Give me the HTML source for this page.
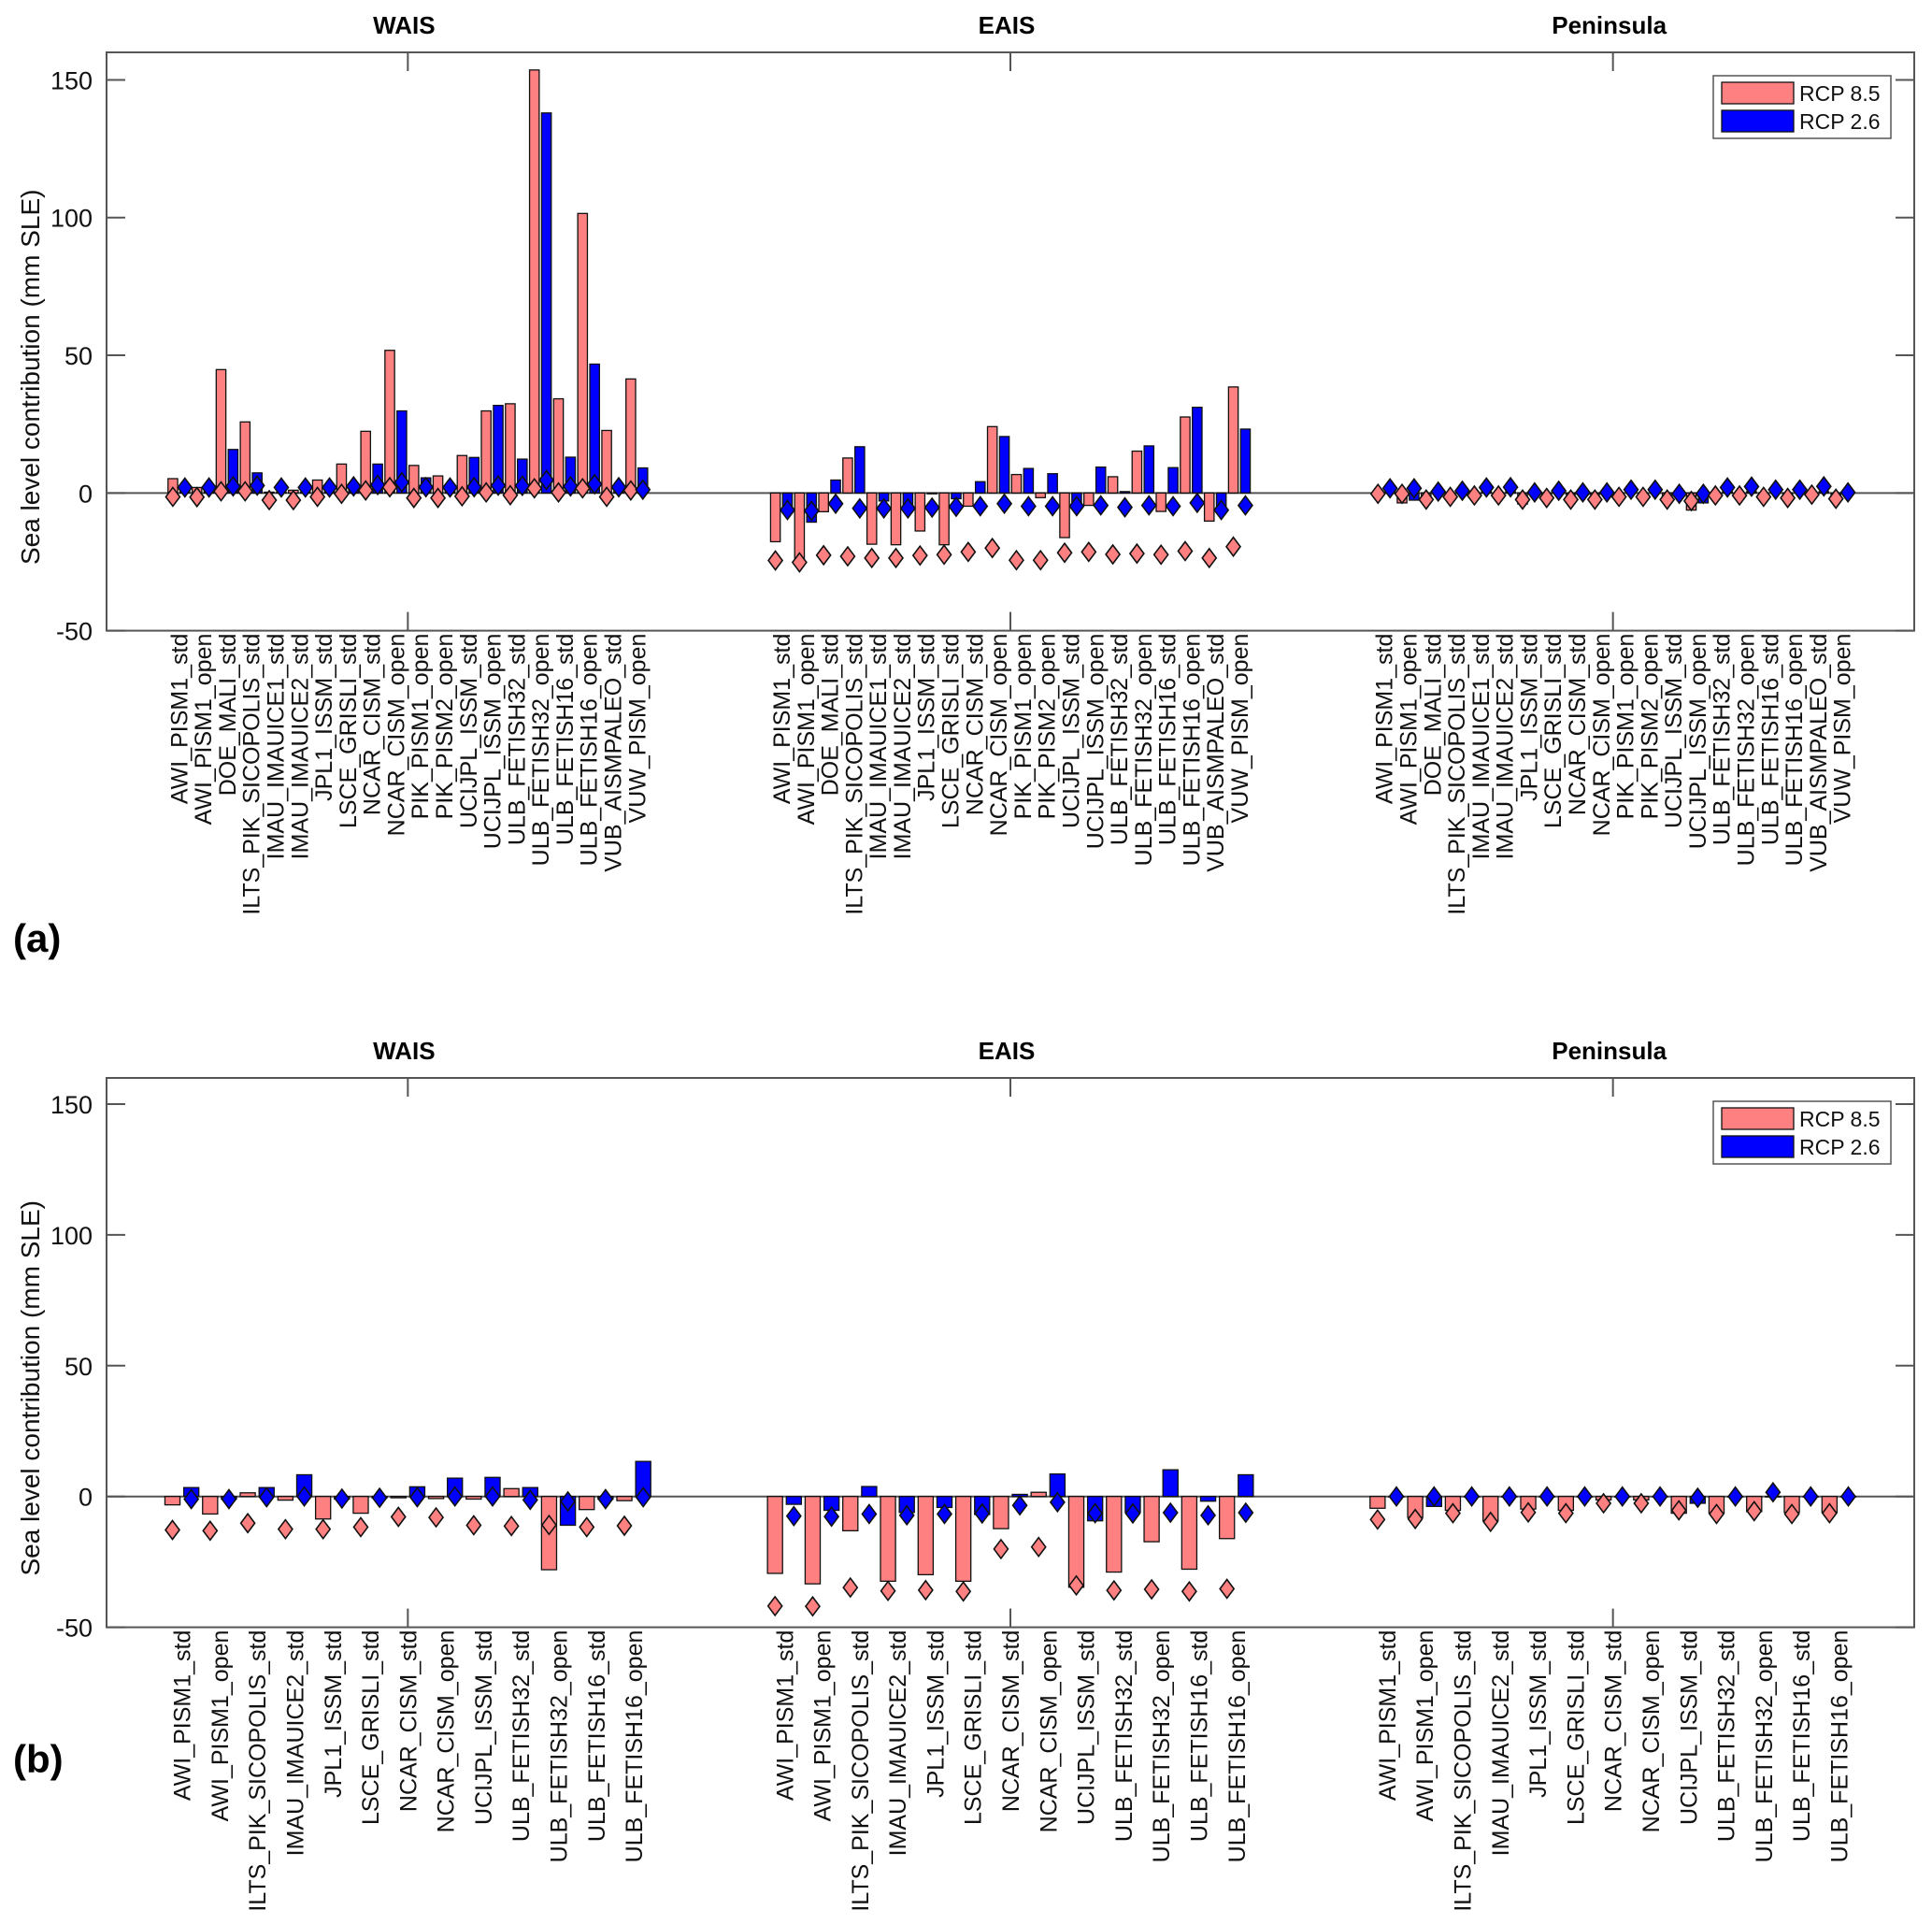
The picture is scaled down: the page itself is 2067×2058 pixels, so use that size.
<!DOCTYPE html>
<html><head><meta charset="utf-8"><style>
html,body{margin:0;padding:0;background:#fff;}
svg{display:block;font-family:"Liberation Sans",Arial,sans-serif;}
</style></head><body>
<svg id="chart" width="2067" height="2058" viewBox="0 0 2067 2058" xmlns="http://www.w3.org/2000/svg"></svg>
<script>
const regions = ["WAIS","EAIS","Peninsula"];
const yTicks = [-50,0,50,100,150];
const modelsA = ["AWI_PISM1_std","AWI_PISM1_open","DOE_MALI_std","ILTS_PIK_SICOPOLIS_std","IMAU_IMAUICE1_std","IMAU_IMAUICE2_std","JPL1_ISSM_std","LSCE_GRISLI_std","NCAR_CISM_std","NCAR_CISM_open","PIK_PISM1_open","PIK_PISM2_open","UCIJPL_ISSM_std","UCIJPL_ISSM_open","ULB_FETISH32_std","ULB_FETISH32_open","ULB_FETISH16_std","ULB_FETISH16_open","VUB_AISMPALEO_std","VUW_PISM_open"];
const modelsB = ["AWI_PISM1_std","AWI_PISM1_open","ILTS_PIK_SICOPOLIS_std","IMAU_IMAUICE2_std","JPL1_ISSM_std","LSCE_GRISLI_std","NCAR_CISM_std","NCAR_CISM_open","UCIJPL_ISSM_std","ULB_FETISH32_std","ULB_FETISH32_open","ULB_FETISH16_std","ULB_FETISH16_open"];
// Panel (a) bars: RCP8.5 / RCP2.6 ; diamonds: RCP8.5 / RCP2.6
const aWaisBar85 = [5.2,2,44.8,25.8,0.3,1,4.7,10.5,22.4,51.8,10,6.2,13.6,29.8,32.4,153.6,34.2,101.5,22.7,41.4];
const aWaisBar26 = [2,1,15.8,7.3,0.3,0.3,2,2,10.5,29.8,5.5,2,12.9,31.8,12.3,138,13,46.8,2,9.1];
const aWaisDia85 = [-1.4,-1.5,0.6,0.6,-2.6,-2.6,-1.4,-0.3,0.9,2.1,-1.8,-1.8,-1.2,0.2,-0.8,1.7,0.2,1.7,-1.4,0.9];
const aWaisDia26 = [2,2,2.4,2.7,2,2,2,2.4,2.9,3.9,2.1,2,2.1,2.7,2.6,4.7,2.4,3.2,2.1,1.2];
const aEaisBar85 = [-17.7,-24.8,-6.8,12.7,-18.6,-18.8,-13.8,-18.8,-4.8,24.1,6.7,-1.7,-16.2,-4.5,5.9,15.2,-6.7,27.6,-10.2,38.5];
const aEaisBar26 = [-5.2,-10.6,4.7,16.8,-2.9,-4.4,-0.3,-2.1,4.1,20.5,8.9,7,-3.6,9.4,0.5,17.1,9.2,31.1,-5.2,23.2];
const aEaisDia85 = [-24.5,-25.2,-22.6,-23,-23.6,-23.6,-22.7,-22.4,-21.4,-20,-24.4,-24.4,-21.7,-21.4,-22.3,-22,-22.4,-21.1,-23.6,-19.5];
const aEaisDia26 = [-6.2,-6.5,-3.9,-5.6,-5.6,-5.6,-5.3,-5,-4.8,-3.9,-4.8,-4.8,-4.8,-4.5,-5.2,-4.5,-4.8,-3.6,-6.2,-4.5];
const aPenBar85 = [-0.5,-3.6,-1,-1,-1,-1,-4,-1,-0.5,-0.5,-1,-0.5,-1.5,-6.2,-1.5,-1,-1,-1,-0.5,-1];
const aPenBar26 = [0.5,-2.6,0.5,0.5,0.5,0.5,0.5,0.5,0.5,0.5,0.5,0.5,-1,-3.6,0.5,0.5,0.5,0.5,0.5,0.5];
const aPenDia85 = [-0.3,-0.3,-2.4,-1.4,-0.9,-0.9,-2.4,-1.8,-2.4,-2.4,-1.4,-1.4,-2.4,-2.9,-0.9,-0.9,-1.4,-1.8,-0.6,-2.1];
const aPenDia26 = [1.7,1.7,0.5,0.8,2,2.1,0.2,0.8,0.2,0.2,1.2,1.2,-0.3,-0.3,2,2.3,1.2,1.2,2.4,0.2];
// Panel (b)
const bWaisBar85 = [-3.2,-6.7,1.4,-1.4,-8.6,-6.4,-0.5,-0.8,-1,3,-28,-5,-1.6];
const bWaisBar26 = [3.4,-1,3.4,8.3,-1,-0.5,3.7,7,7.3,3.4,-11,-1,13.4];
const bWaisDia85 = [-12.8,-13.1,-10.2,-12.5,-12.5,-11.7,-7.8,-8,-11,-11.3,-10.9,-11.7,-11.2];
const bWaisDia26 = [-1,-1,-0.3,0,-0.8,-0.5,-0.3,0,0,-1.3,-1.9,-1,-0.3];
const bEaisBar85 = [-29.4,-33.4,-13.1,-32.4,-29.9,-32.4,-12.3,1.6,-34.7,-28.9,-17.3,-27.8,-16.1];
const bEaisBar26 = [-3,-5.3,3.8,-6.1,-4.2,-6.9,0.8,8.6,-9.3,-6.1,10.2,-1.8,8.3];
const bEaisDia85 = [-41.9,-42,-34.8,-36.1,-35.8,-36.3,-20.1,-19.3,-34,-35.9,-35.5,-36.3,-35.3];
const bEaisDia26 = [-7.5,-7.7,-6.7,-7.2,-6.7,-6.5,-3.4,-2.2,-6.4,-6.5,-6.2,-7.2,-6.2];
const bPenBar85 = [-4.5,-8,-5.3,-9.3,-4.8,-5.3,-1.3,-1.3,-6.4,-6.4,-5.8,-6.1,-6.1];
const bPenBar26 = [0,-3.8,0,0,0,0,0,0,-2.6,0,0,0,0];
const bPenDia85 = [-8.8,-8.6,-6.4,-9.7,-6.1,-6.4,-2.6,-2.6,-5.3,-6.7,-5.6,-6.7,-6.4];
const bPenDia26 = [0,0,0,0,0,0,0,0,-0.5,0,1.6,0,0];

const NS="http://www.w3.org/2000/svg";
const svg=document.getElementById('chart');
function el(tag,attrs,parent){const e=document.createElementNS(NS,tag);for(const k in attrs)e.setAttribute(k,attrs[k]);(parent||svg).appendChild(e);return e;}
const X0=114,X1=2048,W=(X1-X0)/3;
const panels=[
 {id:'a',top:56,bottom:674.6,models:modelsA,div:25,letterY:1018,
  bar85:[aWaisBar85,aEaisBar85,aPenBar85],bar26:[aWaisBar26,aEaisBar26,aPenBar26],
  dia85:[aWaisDia85,aEaisDia85,aPenDia85],dia26:[aWaisDia26,aEaisDia26,aPenDia26]},
 {id:'b',top:1153,bottom:1740.6,models:modelsB,div:16,letterY:1896,
  bar85:[bWaisBar85,bEaisBar85,bPenBar85],bar26:[bWaisBar26,bEaisBar26,bPenBar26],
  dia85:[bWaisDia85,bEaisDia85,bPenDia85],dia26:[bWaisDia26,bEaisDia26,bPenDia26]}
];
panels.forEach(p=>{
  const g=el('g',{});
  
  
  const ys=v=>p.bottom-(v+50)/210*(p.bottom-p.top);
  const sp=W/p.div;
  const gc=gi=>X0+W*(gi+0.5);
  const mx=(gi,i)=>gc(gi)+(i-(p.models.length-1)/2)*sp;
  const box=el('rect',{x:X0,y:p.top,width:X1-X0,height:p.bottom-p.top,fill:'none',stroke:'#555','stroke-width':2},g);
  
  
  const zl=el('line',{x1:X0,x2:X1,y1:ys(0),y2:ys(0),stroke:'#555','stroke-width':2},g);
  
  
  yTicks.forEach(t=>{
    el('line',{x1:X0,x2:X0+20,y1:ys(t),y2:ys(t),stroke:'#555','stroke-width':2},g);
    el('line',{x1:X1-20,x2:X1,y1:ys(t),y2:ys(t),stroke:'#555','stroke-width':2},g);
    const tl=el('text',{x:99,y:ys(t)+10,'text-anchor':'end','font-size':27,fill:'#111'},g);
    tl.textContent=t;
    
    
  });
  const yc=(p.top+p.bottom)/2+38;
  const yt=el('text',{x:0,y:0,transform:`translate(42,${yc}) rotate(-90)`,'text-anchor':'middle','font-size':28,fill:'#111'},g);
  yt.textContent='Sea level contribution (mm SLE)';
  
  
  const pl=el('text',{x:14,y:p.letterY,'font-size':42,'font-weight':'bold',fill:'#000'},g);
  pl.textContent='('+p.id+')';
  
  
  regions.forEach((r,gi)=>{
    const c=gc(gi);
    el('line',{x1:c,x2:c,y1:p.top,y2:p.top+20,stroke:'#555','stroke-width':2},g);
    el('line',{x1:c,x2:c,y1:p.bottom-20,y2:p.bottom,stroke:'#555','stroke-width':2},g);
    const tt=el('text',{x:c-4,y:p.top-20,'text-anchor':'middle','font-size':26,'font-weight':'bold',fill:'#000'},g);
    tt.textContent=r;
    
    
    const bw=sp*0.4,off=sp*0.25;
    p.models.forEach((m,i)=>{
      const x=mx(gi,i);
      [[p.bar85[gi][i],-off,'#FF8080'],[p.bar26[gi][i],off,'#0000FF']].forEach(([v,o,col],k)=>{
        const y0=ys(0),y1=ys(v);
        const b=el('rect',{x:x+o-bw/2,y:Math.min(y0,y1),width:bw,height:Math.max(Math.abs(y1-y0),0.5),fill:col,stroke:'#111','stroke-width':1.3},g);
        
        
      });
    });
    p.models.forEach((m,i)=>{
      const x=mx(gi,i);
      [[p.dia85[gi][i],-off,'#FF8080'],[p.dia26[gi][i],off,'#0000FF']].forEach(([v,o,col],k)=>{
        const cx=x+o,cy=ys(v),hw=7.5,hh=10;
        const d=el('polygon',{points:`${cx},${cy-hh} ${cx+hw},${cy} ${cx},${cy+hh} ${cx-hw},${cy}`,fill:col,stroke:'#111','stroke-width':1.6},g);
        
        
      });
      const lx=x+9;
      const lt=el('text',{x:0,y:0,transform:`translate(${lx},${p.bottom+3}) rotate(-90)`,'text-anchor':'end','font-size':25,fill:'#111'},g);
      lt.textContent=m;
      
      
    });
  });
  const lg=el('g',{},g);
  
  
  const ly=p.top+25;
  el('rect',{x:1833,y:ly,width:190,height:67,fill:'#fff',stroke:'#555','stroke-width':1.5},lg);
  [['RCP 8.5','#FF8080'],['RCP 2.6','#0000FF']].forEach(([t,col],k)=>{
    const e=el('g',{},lg);
    
    
    el('rect',{x:1842,y:ly+7+k*30,width:77,height:23,fill:col,stroke:'#111','stroke-width':1.3},e);
    const tx=el('text',{x:1925,y:ly+27+k*30,'font-size':23,fill:'#111'},e);
    tx.textContent=t;
  });
});
</script>
</body></html>
